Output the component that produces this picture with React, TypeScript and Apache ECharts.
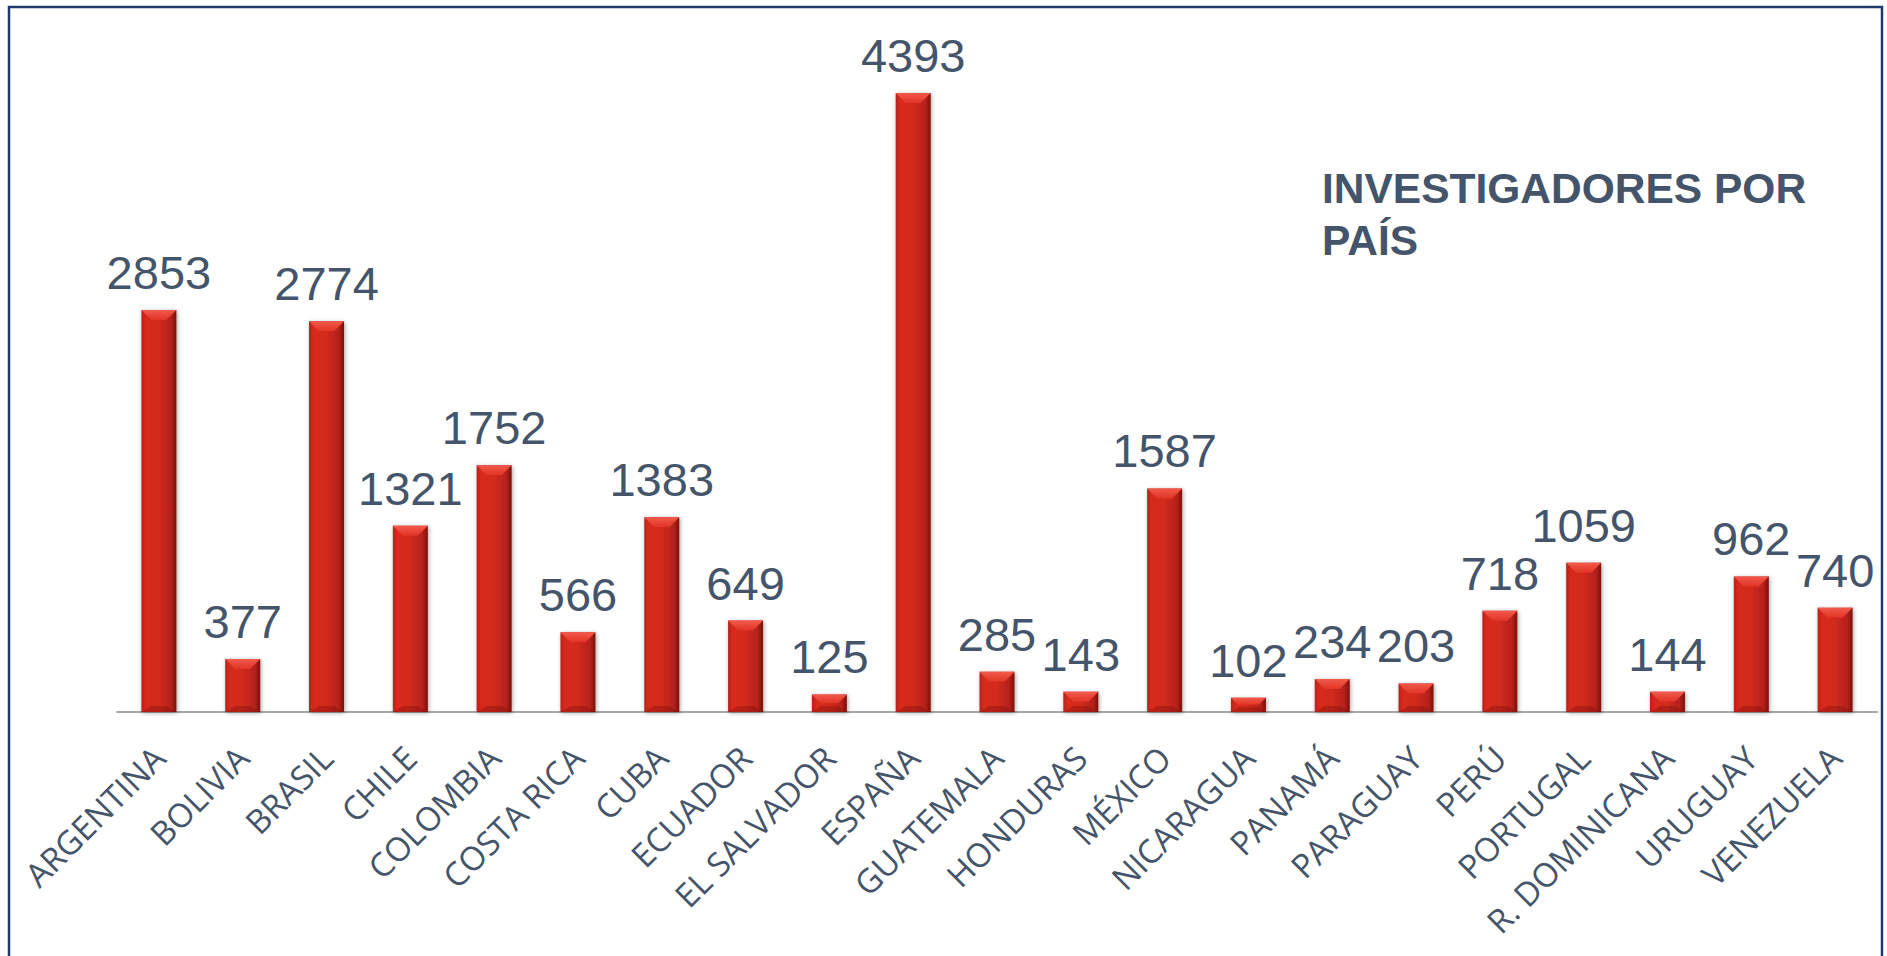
import React, { useEffect, useRef } from "react";
import * as echarts from "echarts";

const categories = [
  "ARGENTINA", "BOLIVIA", "BRASIL", "CHILE", "COLOMBIA", "COSTA RICA", "CUBA",
  "ECUADOR", "EL SALVADOR", "ESPAÑA", "GUATEMALA", "HONDURAS", "MÉXICO",
  "NICARAGUA", "PANAMÁ", "PARAGUAY", "PERÚ", "PORTUGAL", "R. DOMINICANA",
  "URUGUAY", "VENEZUELA",
];
const values = [
  2853, 377, 2774, 1321, 1752, 566, 1383, 649, 125, 4393, 285, 143, 1587,
  102, 234, 203, 718, 1059, 144, 962, 740,
];
const titleText = "INVESTIGADORES POR\nPAÍS";

const BAR_W = 35;

export default function App() {
  const ref = useRef<HTMLDivElement>(null);
  useEffect(() => {
    if (!ref.current) return;
    const chart = echarts.init(ref.current, null, { renderer: "svg" });
    chart.setOption({
      animation: false,
      backgroundColor: "#ffffff",
      title: {
        text: titleText,
        left: 1317,
        top: 157,
        textStyle: {
          fontFamily: "Liberation Sans",
          fontWeight: "bold",
          fontSize: 42.5,
          lineHeight: 52,
          color: "#44546A",
        },
      },
      graphic: [
        {
          type: "rect",
          shape: { x: 9, y: 7, width: 1873, height: 1000 },
          style: { fill: "none", stroke: "#1F3A6E", lineWidth: 2.5 },
          z: 100,
        },
      ],
      grid: { left: 117, right: 10, top: 7.5, bottom: 244 },
      xAxis: {
        type: "category",
        data: categories,
        axisLine: { lineStyle: { color: "#A6A6A6", width: 2 } },
        axisTick: { show: false },
        axisLabel: {
          interval: 0,
          rotate: 45,
          margin: 40,
          fontFamily: "Open Sans",
          fontSize: 33,
          color: "#44546A",
        },
      },
      yAxis: { type: "value", min: 0, max: 5000, show: false },
      series: [
        {
          type: "bar",
          data: values,
          barWidth: BAR_W,
          itemStyle: {
            color: new echarts.graphic.LinearGradient(0, 0, 1, 0, [
              { offset: 0, color: "#B8221A" },
              { offset: 0.12, color: "#D8291E" },
              { offset: 0.5, color: "#D12A1F" },
              { offset: 0.85, color: "#B5211A" },
              { offset: 1, color: "#761309" },
            ]),
            shadowBlur: 4,
            shadowColor: "rgba(0,0,0,0.35)",
            shadowOffsetX: 1,
            shadowOffsetY: 1,
          },
          label: {
            show: true,
            position: "top",
            distance: 14,
            fontFamily: "Liberation Sans",
            fontSize: 47,
            color: "#44546A",
          },
          z: 2,
        },
        {
          type: "custom",
          data: values.map((v, i) => [i, v]),
          silent: true,
          z: 3,
          renderItem: (params: any, api: any) => {
            const top = api.coord([api.value(0), api.value(1)]);
            const base = api.coord([api.value(0), 0]);
            const h = base[1] - top[1];
            const x0 = top[0] - BAR_W / 2;
            const x1 = top[0] + BAR_W / 2;
            const y = top[1];
            const bh = Math.min(10, h / 2);
            const inset = Math.min(10, bh);
            return {
              type: "group",
              children: [
                {
                  type: "polygon",
                  shape: {
                    points: [
                      [x0, y],
                      [x1, y],
                      [x1 - inset, y + bh],
                      [x0 + inset, y + bh],
                    ],
                  },
                  style: {
                    fill: new echarts.graphic.LinearGradient(0, 0, 0, 1, [
                      { offset: 0, color: "#F25A4C" },
                      { offset: 1, color: "#E03426" },
                    ]),
                  },
                },
                {
                  type: "polygon",
                  shape: {
                    points: [
                      [x0 + inset, base[1] - Math.min(6, h / 3)],
                      [x1 - inset, base[1] - Math.min(6, h / 3)],
                      [x1, base[1]],
                      [x0, base[1]],
                    ],
                  },
                  style: { fill: "rgba(120,15,10,0.35)" },
                },
              ],
            };
          },
        },
      ],
    });
    return () => chart.dispose();
  }, []);
  return (
    <div
      ref={ref}
      style={{ position: "absolute", left: 0, top: 0, width: 1887, height: 956 }}
    />
  );
}
